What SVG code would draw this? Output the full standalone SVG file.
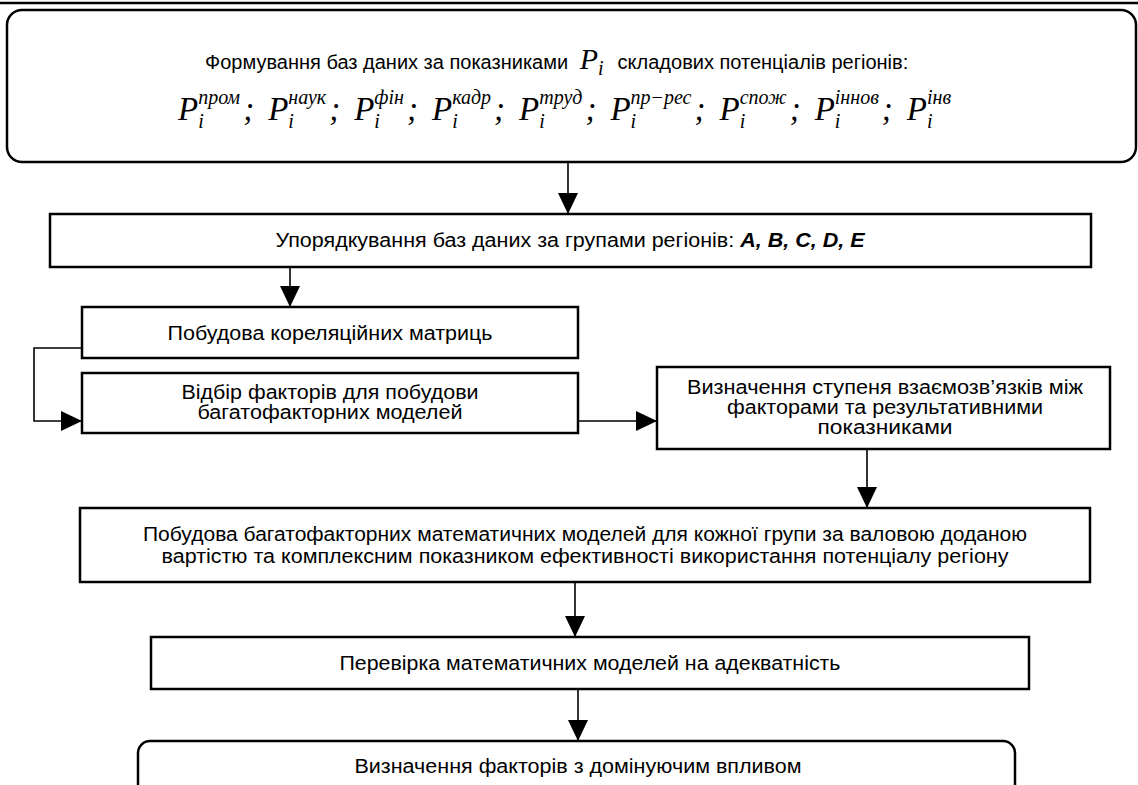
<svg xmlns="http://www.w3.org/2000/svg" width="1138" height="785" viewBox="0 0 1138 785">
<style>
.box{fill:#fff;stroke:#000;stroke-width:2.5}
.con{fill:none;stroke:#000;stroke-width:1.6}
.t{font-family:"Liberation Sans",Arial,sans-serif;font-size:20px;fill:#000;text-anchor:middle}
.m{font-family:"Liberation Serif","Times New Roman",serif;font-style:italic;fill:#000}
.s{font-size:20px}
</style>
<defs>
<marker id="ah" markerUnits="userSpaceOnUse" markerWidth="21" markerHeight="20" refX="21" refY="10" orient="auto">
<path d="M0,0 L21,10 L0,20 z" fill="#000"/>
</marker>
</defs>
<rect width="1138" height="785" fill="#fff"/>
<line x1="0" y1="3" x2="1138" y2="3" stroke="#000" stroke-width="2.5"/>

<g id="n1">
<rect class="box" x="7" y="10" width="1129" height="152" rx="15"/>
<text class="t" x="205" y="69" style="text-anchor:start">Формування баз даних за показниками <tspan class="m" font-size="30" dx="6">P</tspan><tspan class="m" font-size="20" dy="6">i</tspan><tspan dy="-6" dx="14">складових потенціалів регіонів:</tspan></text>
<text class="m" x="178" y="120" font-size="33">P<tspan class="s" dy="8">i</tspan><tspan class="s" dx="-5.6" dy="-24">пром</tspan><tspan dy="16" dx="3">;</tspan><tspan dx="14">P</tspan><tspan class="s" dy="8">i</tspan><tspan class="s" dx="-5.6" dy="-24">наук</tspan><tspan dy="16" dx="3">;</tspan><tspan dx="14">P</tspan><tspan class="s" dy="8">i</tspan><tspan class="s" dx="-5.6" dy="-24">фін</tspan><tspan dy="16" dx="3">;</tspan><tspan dx="14">P</tspan><tspan class="s" dy="8">i</tspan><tspan class="s" dx="-5.6" dy="-24">кадр</tspan><tspan dy="16" dx="3">;</tspan><tspan dx="14">P</tspan><tspan class="s" dy="8">i</tspan><tspan class="s" dx="-5.6" dy="-24">труд</tspan><tspan dy="16" dx="3">;</tspan><tspan dx="14">P</tspan><tspan class="s" dy="8">i</tspan><tspan class="s" dx="-5.6" dy="-24">пр−рес</tspan><tspan dy="16" dx="3">;</tspan><tspan dx="14">P</tspan><tspan class="s" dy="8">i</tspan><tspan class="s" dx="-5.6" dy="-24">спож</tspan><tspan dy="16" dx="3">;</tspan><tspan dx="14">P</tspan><tspan class="s" dy="8">i</tspan><tspan class="s" dx="-5.6" dy="-24">іннов</tspan><tspan dy="16" dx="3">;</tspan><tspan dx="14">P</tspan><tspan class="s" dy="8">i</tspan><tspan class="s" dx="-5.6" dy="-24">інв</tspan></text>
</g>

<g id="n2">
<rect class="box" x="50" y="214" width="1041" height="53"/>
<text class="t" x="570" y="247" textLength="589" lengthAdjust="spacingAndGlyphs">Упорядкування баз даних за групами регіонів: <tspan font-weight="bold" font-style="italic">A, B, C, D, E</tspan></text>
</g>

<g id="n3">
<rect class="box" x="82" y="307" width="496" height="51"/>
<text class="t" x="330" y="340" textLength="325" lengthAdjust="spacingAndGlyphs">Побудова кореляційних матриць</text>
</g>

<g id="n4">
<rect class="box" x="82" y="373" width="496" height="60"/>
<text class="t" x="330" y="399" textLength="297" lengthAdjust="spacingAndGlyphs">Відбір факторів для побудови</text>
<text class="t" x="330" y="419" textLength="265" lengthAdjust="spacingAndGlyphs">багатофакторних моделей</text>
</g>

<g id="n5">
<rect class="box" x="657" y="367" width="453" height="82"/>
<text class="t" x="885" y="394" textLength="396" lengthAdjust="spacingAndGlyphs">Визначення ступеня взаємозв’язків між</text>
<text class="t" x="885" y="414" textLength="316" lengthAdjust="spacingAndGlyphs">факторами та результативними</text>
<text class="t" x="885" y="434" textLength="135" lengthAdjust="spacingAndGlyphs">показниками</text>
</g>

<g id="n6">
<rect class="box" x="80" y="508" width="1010" height="74"/>
<text class="t" x="585" y="541" textLength="884" lengthAdjust="spacingAndGlyphs">Побудова багатофакторних математичних моделей для кожної групи за валовою доданою</text>
<text class="t" x="585" y="563" textLength="847" lengthAdjust="spacingAndGlyphs">вартістю та комплексним показником ефективності використання потенціалу регіону</text>
</g>

<g id="n7">
<rect class="box" x="151" y="637" width="878" height="52"/>
<text class="t" x="590" y="670" textLength="501" lengthAdjust="spacingAndGlyphs">Перевірка математичних моделей на адекватність</text>
</g>

<g id="n8">
<rect class="box" x="138" y="741" width="877" height="70" rx="12"/>
<text class="t" x="578" y="773" textLength="447" lengthAdjust="spacingAndGlyphs">Визначення факторів з домінуючим впливом</text>
</g>

<g id="connectors">
<path class="con" d="M568,162 V214" marker-end="url(#ah)"/>
<path class="con" d="M290,267 V307" marker-end="url(#ah)"/>
<path class="con" d="M82,348 H34 V421 H82" marker-end="url(#ah)"/>
<path class="con" d="M578,421 H657" marker-end="url(#ah)"/>
<path class="con" d="M867,449 V508" marker-end="url(#ah)"/>
<path class="con" d="M575,582 V637" marker-end="url(#ah)"/>
<path class="con" d="M578,689 V741" marker-end="url(#ah)"/>
</g>
</svg>
